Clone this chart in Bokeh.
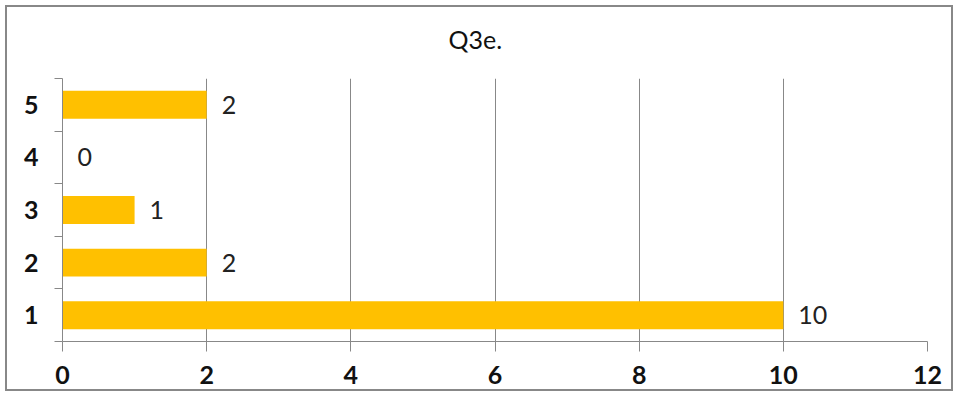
from bokeh.plotting import figure
from bokeh.models import FixedTicker, ColumnDataSource, Range1d, Title
from bokeh.core.properties import value
from bokeh.embed import file_html
from bokeh.resources import INLINE

# data
categories = ["1", "2", "3", "4", "5"]
counts = [10, 2, 1, 0, 2]
x_ticks = [0, 2, 4, 6, 8, 10, 12]
title_text = "Q3e."

positions = [i + 1 for i in range(len(categories))]
boundaries = [i + 0.5 for i in range(len(categories) + 1)]

FONT = "Lato"
GRAY = "#888888"
BAR = "#FFC000"

src = ColumnDataSource(dict(y=positions, v=counts, lbl=[str(c) for c in counts]))

p = figure(width=948, height=386, output_backend="svg", toolbar_location=None,
           x_range=Range1d(0, 12), y_range=Range1d(0.5, 5.5),
           min_border_left=55, min_border_right=28, min_border_top=71, min_border_bottom=52)
p.title = None
p.margin = (5, 0, 0, 5)
p.styles = {"border": f"2px solid {GRAY}"}

# spacer between title and plot area, then the title itself
p.add_layout(Title(text=" ", text_font_size="7px", text_font=FONT), "above")
p.add_layout(Title(text=title_text, align="left", offset=386, text_font=FONT,
                   text_font_style="normal", text_font_size="25px",
                   text_color="#111111"), "above")

p.hbar(y="y", right="v", left=0, height=0.53, source=src, color=BAR, line_color=None)
p.text(x="v", y="y", text="lbl", source=src, x_offset=15, text_align="left",
       text_baseline="middle", text_font=value(FONT), text_font_size="25px",
       text_color="#222222")

p.outline_line_color = None
p.background_fill_color = "white"
p.border_fill_color = "white"

# x axis
xa = p.xaxis[0]
xa.ticker = FixedTicker(ticks=x_ticks)
xa.axis_line_color = GRAY
xa.major_tick_line_color = GRAY
xa.major_tick_out = 10
xa.major_tick_in = 0
xa.minor_tick_line_color = None
xa.major_label_text_font = FONT
xa.major_label_text_font_style = "bold"
xa.major_label_text_font_size = "25px"
xa.major_label_text_color = "#111111"
xa.major_label_standoff = 14

# y axis
ya = p.yaxis[0]
ya.ticker = FixedTicker(ticks=positions, minor_ticks=boundaries)
ya.major_label_overrides = {pos: c for pos, c in zip(positions, categories)}
ya.axis_line_color = GRAY
ya.major_tick_line_color = None
ya.minor_tick_line_color = GRAY
ya.minor_tick_out = 8
ya.minor_tick_in = 0
ya.major_label_text_font = FONT
ya.major_label_text_font_style = "bold"
ya.major_label_text_font_size = "25px"
ya.major_label_text_color = "#111111"
ya.major_label_standoff = 16

p.xgrid.ticker = FixedTicker(ticks=x_ticks)
p.xgrid.grid_line_color = GRAY
p.ygrid.grid_line_color = None

open("out.html", "w").write(file_html(p, INLINE))
